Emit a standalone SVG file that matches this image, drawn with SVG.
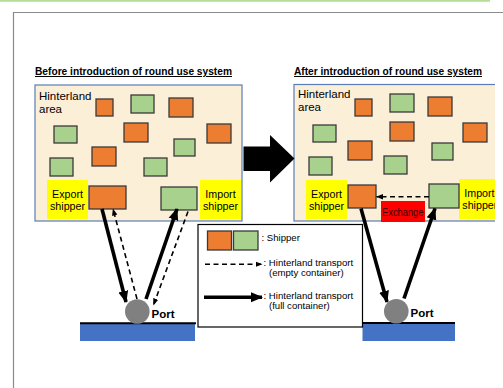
<svg xmlns="http://www.w3.org/2000/svg" width="503" height="388" viewBox="0 0 503 388">
<style>
text{font-family:"Liberation Sans",Arial,sans-serif;fill:#000}
.h{font-size:10px;font-weight:bold;text-decoration:underline}
.area{font-size:11.5px}
.lab{font-size:10.7px}
.leg{font-size:9.6px}
.port{font-size:11.5px;font-weight:bold}
.box{fill:#fcefd8;stroke:#5a7db5;stroke-width:1.2}
.o{fill:#ed7d31;stroke:#3a3a3a;stroke-width:1.3}
.g{fill:#a9d18e;stroke:#3a3a3a;stroke-width:1.3}
.y{fill:#ffff00}
.full{stroke:#000;stroke-width:3.6;fill:none;marker-end:url(#ah)}
.empty{stroke:#000;stroke-width:1.6;fill:none;stroke-dasharray:5 3.5;marker-end:url(#ahs)}
.pc{fill:#808080}
.sea{fill:#4472c4}
</style>
<defs>
<marker id="ah" markerUnits="userSpaceOnUse" markerWidth="12" markerHeight="12" viewBox="0 0 12 12" refX="11" refY="6" orient="auto">
<path d="M0,1 L12,6 L0,11 Z" fill="#000"/>
</marker>
<marker id="ahs" markerUnits="userSpaceOnUse" markerWidth="7" markerHeight="7" viewBox="0 0 7 7" refX="6.5" refY="3.5" orient="auto">
<path d="M0,0.8 L7,3.5 L0,6.2 Z" fill="#000"/>
</marker>
<clipPath id="cr"><rect x="0" y="0" width="495" height="388"/></clipPath>
</defs>
<rect x="0" y="0" width="503" height="388" fill="#fff"/>
<line x1="0" y1="0.8" x2="490" y2="0.8" stroke="#b5dd96" stroke-width="2"/>
<path d="M13.5,388 V12.5 H503" fill="none" stroke="#8a8a8a" stroke-width="1.2"/>

<text class="h" x="35" y="75" textLength="197" lengthAdjust="spacingAndGlyphs">Before introduction of round use system</text>
<text class="h" x="294" y="75" textLength="188" lengthAdjust="spacingAndGlyphs">After introduction of round use system</text>

<g id="before-area">
<rect class="box" x="35" y="85" width="207" height="136"/>
<text class="area" x="39" y="100">Hinterland</text>
<text class="area" x="39" y="113">area</text>
<rect class="o" x="96" y="99" width="17" height="17"/>
<rect class="g" x="131" y="95" width="23" height="18"/>
<rect class="o" x="169" y="98" width="24" height="19"/>
<rect class="g" x="54" y="126" width="23" height="17"/>
<rect class="o" x="124" y="123" width="24" height="19"/>
<rect class="o" x="207" y="124" width="24" height="19"/>
<rect class="g" x="174" y="139" width="21" height="17"/>
<rect class="o" x="92" y="147" width="24" height="19"/>
<rect class="g" x="50" y="158" width="23" height="18"/>
<rect class="g" x="144" y="158" width="23" height="18"/>
</g>
<g id="before-export">
<rect class="y" x="47" y="180" width="41" height="39"/>
<text class="lab" x="67.5" y="197.5" text-anchor="middle">Export</text>
<text class="lab" x="67.5" y="209.5" text-anchor="middle">shipper</text>
<rect class="o" x="89" y="186" width="37" height="23"/>
</g>
<g id="before-import">
<rect class="y" x="200" y="180" width="41" height="39"/>
<text class="lab" x="220.5" y="197.5" text-anchor="middle">Import</text>
<text class="lab" x="220.5" y="209.5" text-anchor="middle">shipper</text>
<rect class="g" x="161" y="187" width="36" height="23"/>
</g>

<g id="after-area" clip-path="url(#cr)">
<rect class="box" x="294" y="84.5" width="215" height="136.5"/>
<text class="area" x="298" y="98">Hinterland</text>
<text class="area" x="298" y="111">area</text>
<rect class="o" x="355" y="99" width="17" height="17"/>
<rect class="g" x="390" y="94" width="24" height="18"/>
<rect class="o" x="428" y="97" width="24" height="19"/>
<rect class="g" x="313" y="125" width="23" height="17"/>
<rect class="o" x="390" y="122" width="24" height="19"/>
<rect class="o" x="463" y="123" width="24" height="19"/>
<rect class="g" x="432" y="143" width="21" height="17"/>
<rect class="o" x="348" y="141" width="24" height="19"/>
<rect class="g" x="309" y="157" width="23" height="18"/>
<rect class="g" x="384" y="156" width="23" height="18"/>
<rect class="y" x="306" y="180" width="41" height="39"/>
<text class="lab" x="326.5" y="197.5" text-anchor="middle">Export</text>
<text class="lab" x="326.5" y="209.5" text-anchor="middle">shipper</text>
<rect class="o" x="348" y="185" width="28" height="23"/>
<rect class="y" x="459" y="179" width="40" height="40"/>
<text class="lab" x="464.3" y="197">Import</text>
<text class="lab" x="462.3" y="209">shipper</text>
<rect class="g" x="429" y="184" width="30" height="24"/>
</g>
<g id="exchange">
<rect x="381" y="201" width="44" height="21" fill="#ff0000"/>
<text x="382" y="215.5" textLength="41.5" lengthAdjust="spacingAndGlyphs" style="font-size:10px;fill:#300">Exchange</text>
</g>

<g id="big-arrow">
<path d="M243.5,146.5 H270 V135 L294.5,158.5 L270,182.5 V171 H243.5 Z" fill="#000"/>
</g>

<g id="port-left">
<rect class="sea" x="80" y="324" width="115" height="17"/>
<line x1="80" y1="323.3" x2="196" y2="323.3" stroke="#000" stroke-width="2"/>
</g>
<g id="port-right">
<rect class="sea" x="362.5" y="324" width="92.5" height="17"/>
<line x1="362.5" y1="323" x2="455" y2="323" stroke="#000" stroke-width="2"/>
</g>

<g id="connectors">
<line class="full" x1="102" y1="209" x2="126" y2="302"/>
<line class="empty" x1="137" y1="299" x2="113" y2="209"/>
<line class="full" x1="146" y1="299" x2="177" y2="209"/>
<line class="empty" x1="188" y1="211.5" x2="153.5" y2="305"/>
<line class="full" x1="361" y1="208.5" x2="387" y2="302"/>
<line class="full" x1="404" y1="298.5" x2="435" y2="208.5"/>
<line class="empty" x1="429" y1="196.7" x2="376.5" y2="196.7"/>
</g>

<g id="port-left-node">
<circle class="pc" cx="137.3" cy="311.5" r="12.3"/>
<text class="port" x="151.5" y="317.5">Port</text>
</g>
<g id="port-right-node">
<circle class="pc" cx="396.3" cy="311.2" r="12.3"/>
<text class="port" x="410.5" y="317">Port</text>
</g>

<g id="legend">
<rect x="198" y="224.5" width="164.5" height="102.5" fill="#fff" stroke="#000" stroke-width="1.2"/>
<rect class="o" x="207.5" y="231" width="24" height="19"/>
<rect class="g" x="233.5" y="231" width="24.5" height="19"/>
<text class="leg" x="261.5" y="240.5">:  Shipper</text>
<line class="empty" x1="205" y1="264.3" x2="262" y2="264.3"/>
<text class="leg" x="263.5" y="265.5">:  Hinterland transport</text>
<text class="leg" x="269" y="276">(empty container)</text>
<line class="full" x1="204" y1="297.3" x2="262" y2="297.3"/>
<text class="leg" x="263.5" y="298.5">:  Hinterland transport</text>
<text class="leg" x="269" y="309">(full container)</text>
</g>
</svg>
